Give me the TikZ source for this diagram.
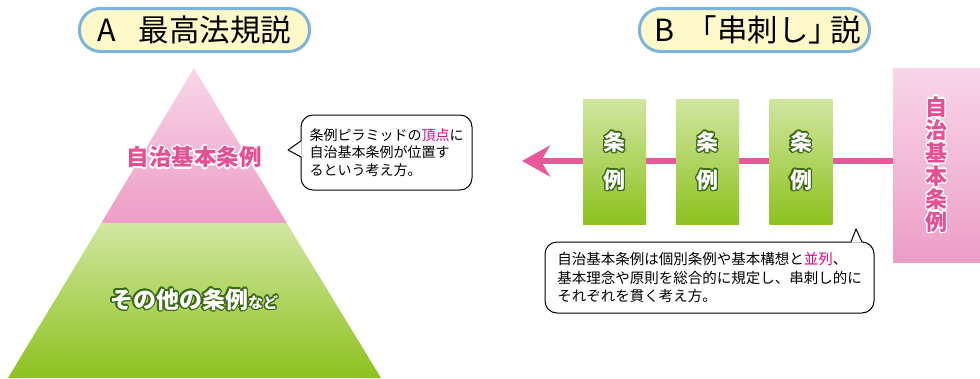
\documentclass[tikz,border=0pt]{standalone}
\usepackage{fontspec}
\setmainfont{Noto Sans CJK JP}
\usepackage[copies]{contour}
\usetikzlibrary{arrows.meta,calc}
\definecolor{pillfill}{HTML}{FFF8C8}
\definecolor{pillborder}{HTML}{7DB4DE}
\definecolor{ptop}{HTML}{F8D6E7}
\definecolor{pbot}{HTML}{ED9DC6}
\definecolor{gtop}{HTML}{D1E6A0}
\definecolor{gbot}{HTML}{8CC21F}
\definecolor{pinktext}{HTML}{E64F94}
\definecolor{darkgreen}{HTML}{3A6A12}
\definecolor{arrowpink}{HTML}{E8589A}
\definecolor{hl}{HTML}{E4007F}
\newcommand{\pinkout}[1]{\textcolor{pinktext}{\contour{white}{#1}}}
\newcommand{\greenout}[1]{\textcolor{white}{\contour{darkgreen}{#1}}}
\contourlength{1.3pt}
\begin{document}
\begin{tikzpicture}[x=1pt,y=-1pt]
\useasboundingbox (0,0) rectangle (980,378);
\tikzset{
  pill/.style={draw=pillborder,line width=3pt,fill=pillfill,rounded corners=21pt,minimum width=230pt,minimum height=43pt,inner sep=0pt,font=\fontsize{30.5}{31}\selectfont},
  callout/.style={draw=black,line width=1pt,fill=white,rounded corners=12pt,align=left,inner sep=0pt},
  gbox/.style={minimum width=63pt,minimum height=125pt,top color=gtop,bottom color=gbot,inner sep=0pt,align=center,font=\fontsize{22}{38}\selectfont\bfseries},
  pinkrect/.style={minimum width=87pt,minimum height=194pt,top color=ptop,bottom color=pbot,inner sep=0pt,align=center,font=\fontsize{22}{23}\selectfont\bfseries},
  arrowline/.style={draw=arrowpink,line width=6pt,-{Stealth[length=28pt,width=31pt,inset=9pt]}},
  tailline/.style={draw=black,line width=1pt,line join=round}
}
% titles
\node[pill] (ta) at (194.5,30) {A\hspace{22pt}最高法規説};
\node[pill,text width=230pt,align=center] (tb) at (754.5,30) {\hspace{6pt}B\hspace{12pt}「串刺し」\hspace{-9pt}説};
% pyramid
\coordinate (apex) at (194,68);
\coordinate (sl) at (101.3,223);
\coordinate (sr) at (286.7,223);
\coordinate (bl) at (8,378);
\coordinate (br) at (381,378);
\shade[top color=ptop,bottom color=pbot] (apex) -- (sr) -- (sl) -- cycle;
\shade[top color=gtop,bottom color=gbot] (sl) -- (sr) -- (br) -- (bl) -- cycle;
\node[font=\fontsize{22.5}{24}\selectfont\bfseries] (pyrtop) at (194,158) {\pinkout{自治基本条例}};
\node[font=\fontsize{23}{24}\selectfont\bfseries] (pyrbot) at (194,300) {\greenout{その他の条例}{\fontsize{15}{16}\selectfont\greenout{など}}};
% callout 1
\node[callout,minimum width=171pt,minimum height=75pt,font=\fontsize{14}{17.5}\selectfont] (c1) at (386.5,152.5) {条例ピラミッドの\textcolor{hl}{頂点}に\\自治基本条例が位置す\\るという考え方。};
\coordinate (t1) at (288,150);
\fill[white] (301.6,141) -- (t1) -- (301.6,157) -- cycle;
\draw[tailline] (301,141) -- (t1) -- (301,157);
% right side
\node[pinkrect] (zr) at (936.5,165) {\pinkout{自}\\\pinkout{治}\\\pinkout{基}\\\pinkout{本}\\\pinkout{条}\\\pinkout{例}};
\coordinate (tip) at (522,161);
\draw[arrowline] (zr.west |- tip) -- (tip);
\node[gbox] (g1) at (614.5,161.5) {\greenout{条}\\\greenout{例}};
\node[gbox] (g2) at (707.5,161.5) {\greenout{条}\\\greenout{例}};
\node[gbox] (g3) at (801,161.5) {\greenout{条}\\\greenout{例}};
% callout 2
\node[callout,minimum width=329pt,minimum height=71pt,font=\fontsize{14.5}{18.5}\selectfont] (c2) at (709.5,277.5) {自治基本条例は個別条例や基本構想と\textcolor{hl}{並列}、\\基本理念や原則を総合的に規定し、串刺し的に\\それぞれを貫く考え方。};
\coordinate (t2) at (856,229);
\fill[white] (851,242.6) -- (t2) -- (862,242.6) -- cycle;
\draw[tailline] (851,242) -- (t2) -- (862,242);
\end{tikzpicture}
\end{document}
